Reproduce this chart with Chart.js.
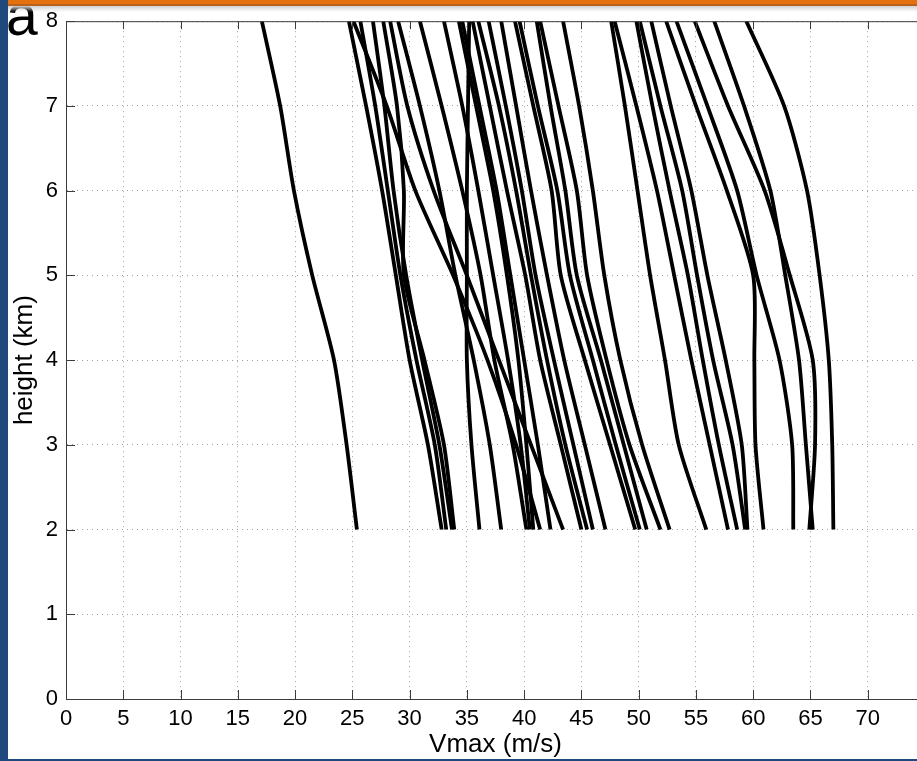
<!DOCTYPE html>
<html>
<head>
<meta charset="utf-8">
<script src="https://cdn.jsdelivr.net/npm/chart.js@4.4.1/dist/chart.umd.min.js"></script>
<style>
  html, body { margin: 0; padding: 0; background: #fff; overflow: hidden; width: 917px; height: 761px; }
  #wrap { position: absolute; left: 0; top: 0; width: 926px; height: 761px; }
  .panel-letter { position: absolute; left: 6px; top: -13px; font: 57px/57px "Liberation Sans", Arial, sans-serif; color: #000; }
  .bar-orange { position: absolute; left: 0; top: 0; width: 917px; height: 4px; background: #e4700f; }
  .bar-edge { position: absolute; left: 0; top: 4px; width: 917px; height: 2px; background: #b8621e; }
  .bar-fade { position: absolute; left: 0; top: 6px; width: 917px; height: 6px; background: linear-gradient(#d2d2d2, rgba(255,255,255,0)); }
  .bar-left { position: absolute; left: 0; top: 0; width: 8px; height: 761px; background: #1f497d; }
  .bar-bottom { position: absolute; left: 0; top: 759px; width: 917px; height: 2px; background: #1f497d; }
</style>
</head>
<body>
<div id="wrap"><canvas id="chart" width="926" height="761"></canvas></div>
<div class="panel-letter">a</div>
<div class="bar-orange"></div>
<div class="bar-edge"></div>
<div class="bar-fade"></div>
<div class="bar-left"></div>
<div class="bar-bottom"></div>
<script>
// heights (km) at which each Vmax profile is sampled
const heights = [2, 3, 4, 5, 6, 7, 8];

// Vmax (m/s) at each height, one row per profile
const vmaxProfiles = [
  [25.4, 24.5, 23.4, 21.5, 19.9, 18.7, 17.1],
  [32.8, 31.6, 30.0, 28.8, 27.6, 26.2, 24.7],
  [33.2, 32.2, 30.6, 29.2, 28.1, 27.0, 25.7],
  [33.7, 32.6, 31.1, 29.7, 28.6, 27.8, 26.8],
  [33.9, 33.0, 31.3, 29.5, 29.5, 28.9, 27.7],
  [41.4, 39.3, 36.8, 33.8, 30.5, 28.0, 25.1],
  [43.4, 40.6, 37.8, 35.0, 32.1, 29.8, 28.3],
  [38.0, 37.0, 35.6, 34.0, 32.6, 30.9, 29.0],
  [36.1, 35.4, 35.0, 35.0, 35.0, 35.1, 35.2],
  [40.2, 39.0, 37.4, 36.2, 34.6, 32.8, 30.9],
  [40.5, 39.7, 38.6, 37.3, 36.0, 34.6, 33.0],
  [40.8, 40.2, 39.5, 38.5, 37.3, 35.8, 34.3],
  [42.3, 41.2, 40.0, 38.8, 37.6, 36.1, 34.6],
  [45.0, 43.2, 41.4, 40.1, 38.5, 37.0, 35.5],
  [45.5, 43.6, 42.0, 40.6, 39.3, 37.8, 36.0],
  [46.0, 44.3, 42.6, 41.0, 39.8, 38.4, 36.9],
  [47.1, 45.3, 43.5, 42.0, 40.6, 39.3, 38.0],
  [49.7, 47.5, 45.3, 43.2, 42.4, 40.8, 39.2],
  [50.1, 48.0, 46.0, 44.0, 42.9, 41.2, 39.6],
  [50.7, 48.7, 46.7, 44.6, 43.6, 42.3, 41.1],
  [51.9, 49.2, 47.2, 45.5, 44.6, 43.0, 41.4],
  [52.7, 50.3, 48.4, 47.0, 46.0, 44.8, 43.4],
  [55.9, 53.5, 52.3, 51.0, 49.9, 48.8, 47.6],
  [57.8, 56.2, 54.6, 53.1, 51.6, 49.8, 47.9],
  [58.6, 57.0, 55.6, 54.3, 52.7, 51.2, 49.8],
  [59.3, 58.2, 56.5, 55.1, 53.8, 51.9, 50.1],
  [59.5, 59.0, 57.6, 56.0, 54.6, 52.8, 51.1],
  [60.9, 60.2, 60.1, 60.0, 57.7, 55.0, 52.4],
  [63.5, 63.4, 62.3, 60.3, 58.6, 56.0, 53.3],
  [64.9, 65.4, 65.2, 63.2, 61.0, 57.8, 54.9],
  [65.2, 64.6, 64.0, 62.8, 61.5, 59.2, 56.6],
  [67.0, 66.9, 66.6, 65.8, 64.7, 62.7, 59.4]
];

const xTicks = [0, 5, 10, 15, 20, 25, 30, 35, 40, 45, 50, 55, 60, 65, 70];
const yTicks = [0, 1, 2, 3, 4, 5, 6, 7, 8];

const FONT = '"Liberation Sans", Arial, Helvetica, sans-serif';

// matlab style box: top line and inward tick marks
const axesBox = {
  id: 'axesBox',
  afterDraw(chart) {
    const { ctx, chartArea: a, scales: { x, y } } = chart;
    ctx.save();
    ctx.strokeStyle = '#3c3c3c';
    ctx.lineWidth = 1;
    ctx.beginPath();
    ctx.moveTo(a.left, a.top + 0.5);
    ctx.lineTo(a.right, a.top + 0.5);
    x.ticks.forEach(t => {
      const px = Math.round(x.getPixelForValue(t.value)) + 0.5;
      ctx.moveTo(px, a.bottom);
      ctx.lineTo(px, a.bottom - 9);
      ctx.moveTo(px, a.top);
      ctx.lineTo(px, a.top + 8);
    });
    y.ticks.forEach(t => {
      const py = Math.round(y.getPixelForValue(t.value)) + 0.5;
      ctx.moveTo(a.left, py);
      ctx.lineTo(a.left + 9, py);
    });
    ctx.stroke();
    ctx.restore();
  }
};

const datasets = vmaxProfiles.map(row => ({
  data: row.map((v, i) => ({ x: v, y: heights[i] })),
  showLine: true,
  borderColor: '#000',
  borderWidth: 3.8,
  borderJoinStyle: 'round',
  borderCapStyle: 'butt',
  pointRadius: 0,
  tension: 0.25
}));

new Chart(document.getElementById('chart'), {
  type: 'scatter',
  data: { datasets },
  plugins: [axesBox],
  options: {
    responsive: false,
    animation: false,
    layout: { padding: { top: 19, right: 1, left: 0, bottom: 0 } },
    plugins: { legend: { display: false }, tooltip: { enabled: false } },
    scales: {
      x: {
        type: 'linear',
        min: 0,
        max: 75,
        afterBuildTicks: s => { s.ticks = xTicks.map(v => ({ value: v })); },
        afterFit: s => { s.height = 62; },
        grid: { color: '#a0a0a0', lineWidth: 1, drawTicks: false },
        border: { display: true, color: '#3c3c3c', width: 1, dash: [1, 4] },
        ticks: { color: '#000', padding: 7, maxRotation: 0, font: { family: FONT, size: 22 } },
        title: { display: true, text: 'Vmax (m/s)', color: '#000', padding: { top: 0, bottom: 1 }, font: { family: FONT, size: 26 } }
      },
      y: {
        type: 'linear',
        min: 0,
        max: 8,
        afterBuildTicks: s => { s.ticks = yTicks.map(v => ({ value: v })); },
        afterFit: s => { s.width = 66; },
        grid: { color: '#a0a0a0', lineWidth: 1, drawTicks: false },
        border: { display: true, color: '#3c3c3c', width: 1, dash: [1, 4] },
        ticks: { color: '#000', padding: 8, font: { family: FONT, size: 22 } },
        title: { display: true, text: 'height (km)', color: '#000', padding: { top: 9, bottom: 0 }, font: { family: FONT, size: 26 } }
      }
    }
  }
});
</script>
</body>
</html>
